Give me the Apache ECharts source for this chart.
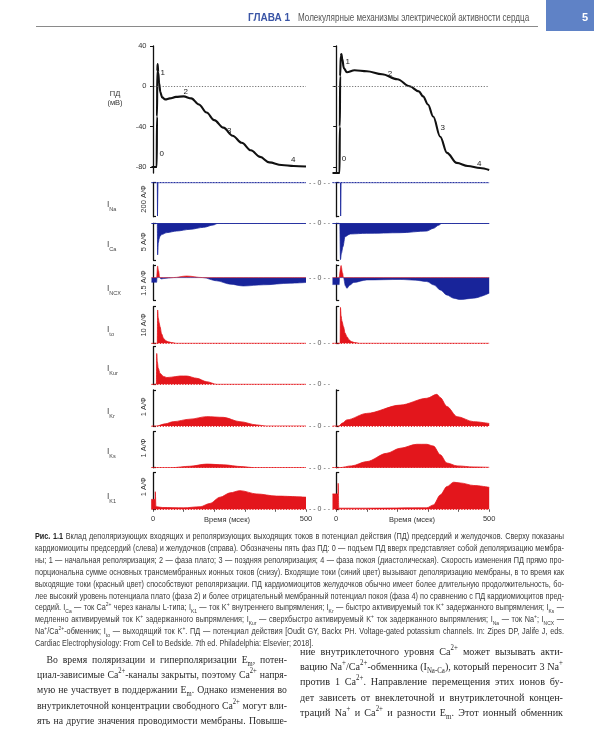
<!DOCTYPE html>
<html><head><meta charset="utf-8">
<script src="https://cdn.jsdelivr.net/npm/echarts@6/dist/echarts.min.js"></script>
<style>
html,body{margin:0;padding:0;background:#fff;}
#page{position:relative;width:600px;height:750px;overflow:hidden;background:#fff;}
#chart{position:absolute;left:0;top:0;width:600px;height:750px;}
.blk{position:absolute;transform-origin:0 0;width:3000px;}
.ln{white-space:nowrap;}
.blk.fit .ln{white-space:normal;text-align:justify;text-align-last:justify;}
.blk.fit .ln.last{text-align-last:left;}
sub,sup{font-size:68%;line-height:0;}
#cap{font-family:"Liberation Sans Narrow","Liberation Sans",Arial,sans-serif;font-size:9px;line-height:11.9px;color:#3a3a3a;}
#cap b{color:#222;}
.body{font-family:"Liberation Serif","DejaVu Serif",serif;font-size:11.3px;line-height:15.2px;color:#2a2a2a;}
#hdr{font-family:"Liberation Sans Narrow","Liberation Sans",Arial,sans-serif;font-size:10px;line-height:12px;color:#555;}
#hdrA{position:absolute;left:248px;top:12px;font-family:"Liberation Sans Narrow","Liberation Sans",Arial,sans-serif;font-size:10px;font-weight:bold;color:#3a55a6;white-space:nowrap;}
#rule{position:absolute;left:36px;top:26px;width:502px;height:1px;background:#8a8a8a;}
#box{position:absolute;left:546px;top:0;width:48px;height:31px;background:#5f82c6;}
#pg{position:absolute;left:582px;top:11px;font-family:"Liberation Sans",Arial,sans-serif;font-weight:bold;font-size:11px;color:#fff;}
</style></head><body>
<div id="page">
<div id="chart"></div>
<div id="rule"></div>
<div id="box"></div><div id="pg">5</div>
<div id="hdrA">ГЛАВА 1</div>
<div id="hdr" class="blk" data-w="232" style="left:298px;top:12px;"><div class="ln last"><span class="t">Молекулярные механизмы электрической активности сердца</span></div></div>

<div id="cap" class="blk" data-w="529" style="left:35px;top:531px;">
<div class="ln"><span class="t"><b>Рис. 1.1</b> Вклад деполяризующих входящих и реполяризующих выходящих токов в потенциал действия (ПД) предсердий и желудочков. Сверху показаны</span></div>
<div class="ln"><span class="t">кардиомиоциты предсердий (слева) и желудочков (справа). Обозначены пять фаз ПД: 0 — подъем ПД вверх представляет собой деполяризацию мембра-</span></div>
<div class="ln"><span class="t">ны; 1 — начальная реполяризация; 2 — фаза плато; 3 — поздняя реполяризация; 4 — фаза покоя (диастолическая). Скорость изменения ПД прямо про-</span></div>
<div class="ln"><span class="t">порциональна сумме основных трансмембранных ионных токов (снизу). Входящие токи (синий цвет) вызывают деполяризацию мембраны, в то время как</span></div>
<div class="ln"><span class="t">выходящие токи (красный цвет) способствуют реполяризации. ПД кардиомиоцитов желудочков обычно имеет более длительную продолжительность, бо-</span></div>
<div class="ln"><span class="t">лее высокий уровень потенциала плато (фаза 2) и более отрицательный мембранный потенциал покоя (фаза 4) по сравнению с ПД кардиомиоцитов пред-</span></div>
<div class="ln"><span class="t">сердий. I<sub>Ca</sub> — ток Ca<sup>2+</sup> через каналы L-типа; I<sub>K1</sub> — ток K<sup>+</sup> внутреннего выпрямления; I<sub>Kr</sub> — быстро активируемый ток K<sup>+</sup> задержанного выпрямления; I<sub>Ks</sub> —</span></div>
<div class="ln"><span class="t">медленно активируемый ток K<sup>+</sup> задержанного выпрямления; I<sub>Kur</sub> — сверхбыстро активируемый K<sup>+</sup> ток задержанного выпрямления; I<sub>Na</sub> — ток Na<sup>+</sup>; I<sub>NCX</sub> —</span></div>
<div class="ln"><span class="t">Na<sup>+</sup>/Ca<sup>2+</sup>-обменник; I<sub>to</sub> — выходящий ток K<sup>+</sup>. ПД — потенциал действия [Oudit GY, Backx PH. Voltage-gated potassium channels. In: Zipes DP, Jalife J, eds.</span></div>
<div class="ln last"><span class="t">Cardiac Electrophysiology: From Cell to Bedside. 7th ed. Philadelphia: Elsevier; 2018].</span></div>
</div>

<div id="bodyL" class="blk body" data-w="250" style="left:37px;top:652px;">
<div class="ln" style="text-indent:11px"><span class="t">Во время поляризации и гиперполяризации E<sub>m</sub>, потен-</span></div>
<div class="ln"><span class="t">циал-зависимые Ca<sup>2+</sup>-каналы закрыты, поэтому Ca<sup>2+</sup> напря-</span></div>
<div class="ln"><span class="t">мую не участвует в поддержании E<sub>m</sub>. Однако изменения во</span></div>
<div class="ln"><span class="t">внутриклеточной концентрации свободного Ca<sup>2+</sup> могут вли-</span></div>
<div class="ln"><span class="t">ять на другие значения проводимости мембраны. Повыше-</span></div>
</div>
<div id="bodyR" class="blk body" data-w="263" style="left:300px;top:644px;">
<div class="ln"><span class="t">ние внутриклеточного уровня Ca<sup>2+</sup> может вызывать акти-</span></div>
<div class="ln"><span class="t">вацию Na<sup>+</sup>/Ca<sup>2+</sup>-обменника (I<sub>Na-Ca</sub>), который переносит 3 Na<sup>+</sup></span></div>
<div class="ln"><span class="t">против 1 Ca<sup>2+</sup>. Направление перемещения этих ионов бу-</span></div>
<div class="ln"><span class="t">дет зависеть от внеклеточной и внутриклеточной концен-</span></div>
<div class="ln"><span class="t">траций Na<sup>+</sup> и Ca<sup>2+</sup> и разности E<sub>m</sub>. Этот ионный обменник</span></div>
</div>
</div>
<script>
// ---------- DATA ----------
const apTicks = [40, 0, -40, -80];
const timeTicks = [0, 100, 200, 300, 400, 500];
const timeLabels = [0, 500];
const timeTitle = 'Время (мсек)';

const apLeftT  = [-5, 12, 13, 14, 15, 17, 20, 24, 30, 40, 55, 75, 100, 125, 150, 175, 200, 230, 260, 290, 320, 350, 380, 420, 460, 500];
const apLeftV  = [-80, -80, -30, 15, 22, 14, 3, -6, -11, -13, -12, -10.5, -10, -12, -18, -26, -33.5, -41, -49, -56, -63.5, -70, -75.5, -78, -79, -79.5];
const apRightT = [-12, 11, 12, 13, 15, 17, 20, 25, 35, 60, 100, 150, 200, 240, 270, 284, 300, 317, 340, 362, 394, 430, 470, 500];
const apRightV = [-86, -86, -40, 10, 30, 32, 27, 18, 14, 16, 15, 12, 7, 0, -5, -10, -18, -30, -50, -66, -76, -79, -81, -83];

const inaLeftT  = [-5, 14, 14.6, 15.4, 16, 500];
const inaLeftV  = [0, 0, -196, -196, 0, 0];
const inaRightT = [-12, 14, 14.6, 15.4, 16, 500];
const inaRightV = [0, 0, -196, -196, 0, 0];

const icaLeftT  = [-5, 14, 15, 16, 17, 20, 23, 30, 45, 77, 121, 165, 197, 212, 500];
const icaLeftV  = [0, 0, -4.3, -3.6, -2.7, -2.1, -1.73, -1.5, -1.27, -1.05, -0.82, -0.55, -0.23, 0, 0];
const icaRightT = [-12, 12, 14, 17, 22, 29, 46, 100, 209, 296, 318, 334, 345, 500];
const icaRightV = [0, 0, -4.95, -4.1, -3.2, -1.8, -1.45, -1.36, -1.28, -1.05, -0.68, -0.27, 0, 0];

const incxLeftT  = [-5, 12, 13, 15, 18, 22, 26, 35, 50, 66, 110, 163, 208, 252, 295, 361, 448, 500];
const incxLeftV  = [-0.2, -0.2, 0, 0.5, 0.3, 0, -0.06, -0.04, -0.02, 0, 0.07, 0, -0.14, -0.28, -0.36, -0.31, -0.24, -0.21];
const incxRightT = [-12, 10, 11, 16, 21, 24, 30, 35, 45, 57, 100, 209, 260, 296, 320, 340, 362, 383, 405, 449, 500];
const incxRightV = [-0.3, -0.3, 0, 0.52, 0.2, 0, -0.35, -0.46, -0.32, -0.21, -0.1, -0.08, -0.11, -0.17, -0.32, -0.53, -0.75, -0.88, -0.94, -0.88, -0.67];

const itoLeftT  = [-5, 14, 15, 17, 20, 23, 28, 34, 42, 50, 60, 75, 500];
const itoLeftV  = [0, 0, 9.1, 7, 5.6, 4.5, 2.6, 1.4, 0.7, 0.4, 0.2, 0, 0];
const itoRightT = [-12, 13, 14, 16, 19, 24, 29, 35, 43, 51, 60, 75, 500];
const itoRightV = [0, 0, 9.8, 7.5, 6, 4.5, 2.8, 1.8, 0.9, 0.4, 0.2, 0, 0];

const ikurLeftT = [-5, 11, 12, 14, 17, 23, 34, 45, 60, 88, 110, 143, 175, 208, 500];
const ikurLeftV = [0, 0, 0.82, 0.6, 0.43, 0.29, 0.21, 0.18, 0.19, 0.22, 0.22, 0.16, 0.07, 0, 0];

const ikrLeftT  = [-5, 12, 40, 66, 121, 175, 230, 284, 339, 370, 500];
const ikrLeftV  = [0, 0, 0.06, 0.12, 0.19, 0.26, 0.24, 0.12, 0.03, 0, 0];
const ikrRightT = [-12, 8, 20, 35, 100, 209, 296, 329, 340, 362, 395, 449, 500];
const ikrRightV = [0, 0, 0.08, 0.17, 0.35, 0.58, 0.77, 0.88, 0.79, 0.54, 0.26, 0.12, 0.07];

const iksLeftT  = [-5, 60, 120, 175, 230, 290, 330, 500];
const iksLeftV  = [0, 0, 0.04, 0.1, 0.08, 0.03, 0, 0];
const iksRightT = [-12, 10, 50, 100, 165, 209, 263, 296, 318, 340, 362, 395, 450, 500];
const iksRightV = [0, 0, 0.05, 0.17, 0.4, 0.54, 0.65, 0.65, 0.6, 0.36, 0.13, 0.05, 0.02, 0.01];

const ik1LeftT  = [-6, 7, 7.5, 9, 9.5, 30, 100, 154, 186, 219, 252, 284, 339, 404, 500];
const ik1LeftV  = [0.27, 0.27, 0.48, 0.48, 0.07, 0.05, 0.04, 0.07, 0.16, 0.33, 0.45, 0.51, 0.42, 0.36, 0.33];
const ik1RightT = [-12, 6, 6.5, 8, 8.5, 20, 100, 296, 318, 340, 362, 384, 405, 450, 500];
const ik1RightV = [0.42, 0.42, 0.71, 0.71, 0.03, 0.03, 0.03, 0.04, 0.12, 0.39, 0.62, 0.74, 0.72, 0.65, 0.6];

const rowNames  = ['Na', 'Ca', 'NCX', 'to', 'Kur', 'Kr', 'Ks', 'K1'];
const rowScales = ['200 А/Ф', '5 А/Ф', '1.5 А/Ф', '10 А/Ф', '', '1 А/Ф', '1 А/Ф', '1 А/Ф'];
const phaseNames = ['0', '1', '2', '3', '4'];

// ---------- LAYOUT / STYLE ----------
const BLUE = '#18249a', RED = '#e3161c', INK = '#111';
const FONT = '"Liberation Sans Narrow","Liberation Sans",Arial,sans-serif';
const DOT = [1.2, 1.6];
const L = {left: 151.5, width: 154.5, min: -5};
const R = {left: 332.5, width: 156.7, min: -12};
const rows = [
  {top: 182.7, bottom: 216.7, min: -200, max: 0, zero: {c: BLUE, t: DOT}, color: BLUE, smooth: false,
   left: [inaLeftT, inaLeftV], right: [inaRightT, inaRightV], lblY: 203, scY: 199},
  {top: 223.3, bottom: 260, min: -5, max: 0, zero: {c: BLUE, t: 'solid'}, color: BLUE,
   left: [icaLeftT, icaLeftV], right: [icaRightT, icaRightV], lblY: 243, scY: 241.7},
  {top: 265, bottom: 300, min: -0.96, max: 0.54, zero: null, split: true,
   left: [incxLeftT, incxLeftV], right: [incxRightT, incxRightV], lblY: 287, scY: 283, zeroY: 277.7},
  {top: 306.7, bottom: 343.3, min: 0, max: 10, zero: {c: RED, t: DOT}, color: RED,
   left: [itoLeftT, itoLeftV], right: [itoRightT, itoRightV], lblY: 328, scY: 325},
  {top: 346.7, bottom: 384.3, min: 0, max: 1, zero: {c: RED, t: DOT}, color: RED,
   left: [ikurLeftT, ikurLeftV], right: null, lblY: 367, scY: 366},
  {top: 390, bottom: 426, min: 0, max: 1, zero: {c: RED, t: DOT}, color: RED,
   left: [ikrLeftT, ikrLeftV], right: [ikrRightT, ikrRightV], lblY: 410, scY: 406.7},
  {top: 431.7, bottom: 467.7, min: 0, max: 1, zero: {c: RED, t: DOT}, color: RED,
   left: [iksLeftT, iksLeftV], right: [iksRightT, iksRightV], lblY: 450, scY: 448},
  {top: 472.7, bottom: 509.3, min: 0, max: 1, zero: {c: RED, t: DOT}, color: RED, bottomAxis: true,
   left: [ik1LeftT, ik1LeftV], right: [ik1RightT, ik1RightV], lblY: 495, scY: 486.7}
];

const pts = (t, v) => t.map((x, i) => [x, v[i]]);
const grids = [], xAxes = [], yAxes = [], series = [], graphics = [];

function addGrid(col, top, height, yCfg, xCfg) {
  const gi = grids.length;
  grids.push({left: col.left, width: col.width, top: top, height: height, containLabel: false, outerBoundsMode: 'none'});
  xAxes.push(Object.assign({gridIndex: gi, type: 'value', min: col.min, max: 500, show: false, splitLine: {show: false}}, xCfg || {}));
  yAxes.push(Object.assign({gridIndex: gi, type: 'value', splitLine: {show: false}}, yCfg));
  return gi;
}
function zeroLine(c, t) {
  return {silent: true, symbol: ['none', 'none'], label: {show: false}, animation: false,
          lineStyle: {type: t, color: c, width: t === 'solid' ? 0.8 : 0.9}, data: [{yAxis: 0}]};
}

// action potential panels
[[L, apLeftT, apLeftV, true], [R, apRightT, apRightV, false]].forEach(([col, t, v, labels]) => {
  const g = addGrid(col, 46, 127, {
    min: -86, max: 40,
    axisLine: {show: true, lineStyle: {color: INK, width: 1.3}},
    axisTick: {show: true, customValues: apTicks, length: 3, lineStyle: {color: INK, width: 1}},
    axisLabel: {show: labels, customValues: apTicks, fontSize: 7.5, color: '#333', margin: 5, fontFamily: FONT}
  });
  series.push({type: 'line', xAxisIndex: g, yAxisIndex: g, data: pts(t, v), showSymbol: false,
    smooth: 0.35, smoothMonotone: 'x', lineStyle: {color: INK, width: 2.1}, z: 3,
    markLine: zeroLine('#666', DOT)});
});

// current panels
rows.forEach((r, ri) => {
  [[L, r.left], [R, r.right]].forEach(([col, d]) => {
    const hasBracket = d !== null;
    const xCfg = r.bottomAxis ? {
      show: true,
      axisLine: {show: false},
      axisTick: {show: true, customValues: timeTicks, length: 2.5, lineStyle: {color: '#333', width: 0.8}},
      axisLabel: {show: true, customValues: timeLabels, fontSize: 7.5, color: '#333', margin: 6, fontFamily: FONT}
    } : null;
    const g = addGrid(col, r.top, r.bottom - r.top, {
      min: r.min, max: r.max, show: hasBracket,
      axisLine: {show: true, lineStyle: {color: INK, width: 1.3}},
      axisTick: {show: true, inside: true, customValues: [r.min, r.max], length: 3, lineStyle: {color: INK, width: 1.2}},
      axisLabel: {show: false}
    }, xCfg);
    if (!d) return;
    const base = {type: 'line', xAxisIndex: g, yAxisIndex: g, showSymbol: false,
      smooth: r.smooth === false ? false : 0.3, smoothMonotone: 'x', z: 2};
    if (r.split) {
      const pos = d[1].map(v => Math.max(v, 0));
      const neg = d[1].map(v => Math.min(v, 0));
      series.push(Object.assign({}, base, {data: pts(d[0], neg), lineStyle: {color: BLUE, width: 0.6},
        areaStyle: {color: BLUE, opacity: 1, origin: 'auto'}}));
      series.push(Object.assign({}, base, {data: pts(d[0], pos), lineStyle: {color: RED, width: 0.6},
        areaStyle: {color: RED, opacity: 1, origin: 'auto'}}));
    } else {
      series.push(Object.assign({}, base, {data: pts(d[0], d[1]), lineStyle: {color: r.color, width: 0.8},
        areaStyle: {color: r.color, opacity: 1, origin: 'auto'},
        markLine: r.zero ? zeroLine(r.zero.c, r.zero.t) : undefined}));
    }
  });
  // row label, scale label, gap zero label
  const zy = r.zeroY !== undefined ? r.zeroY : (r.min < 0 ? r.top : r.bottom);
  graphics.push({type: 'text', x: 107, y: r.lblY, style: {
    text: '{i|I}{s|' + rowNames[ri] + '}', align: 'left', verticalAlign: 'middle', fill: '#444',
    rich: {i: {fontSize: 8.5, fontFamily: FONT, fill: '#444', verticalAlign: 'bottom', lineHeight: 12},
           s: {fontSize: 5.5, fontFamily: FONT, fill: '#444', verticalAlign: 'bottom', lineHeight: 12, padding: [0, 0, -3, 0]}}}});
  if (rowScales[ri]) {
    graphics.push({type: 'text', x: 143.5, y: r.scY, rotation: Math.PI / 2, style: {
      text: rowScales[ri], align: 'center', verticalAlign: 'middle', fontSize: 7.5, fontFamily: FONT, fill: '#333'}});
  }
  graphics.push({type: 'text', x: 319.5, y: zy, style: {
    text: '- - 0 - -', align: 'center', verticalAlign: 'middle', fontSize: 7, fontFamily: FONT, fill: '#555'}});
});

// time axis titles, in line with the 0 / 500 labels
[[227, 519.5], [412, 519.5]].forEach(p => graphics.push({type: 'text', x: p[0], y: p[1], style: {
  text: timeTitle, align: 'center', verticalAlign: 'middle', fontSize: 7.5, fontFamily: FONT, fill: '#333'}}));

// AP labels
graphics.push({type: 'text', x: 115, y: 98, style: {text: 'ПД\n(мВ)', align: 'center', verticalAlign: 'middle',
  fontSize: 7.5, lineHeight: 9, fontFamily: FONT, fill: '#333'}});
const phasePosL = [[161.7, 153.3], [162.7, 72.3], [185.7, 91.7], [229.3, 130.7], [293.3, 160]];
const phasePosR = [[344, 158.3], [347.7, 61.7], [390, 73.3], [442.7, 127.7], [479.3, 163.3]];
[phasePosL, phasePosR].forEach(pp => pp.forEach((p, i) => graphics.push({type: 'text', x: p[0], y: p[1],
  style: {text: phaseNames[i], align: 'center', verticalAlign: 'middle', fontSize: 8, fontFamily: FONT, fill: '#222'}})));

const chart = echarts.init(document.getElementById('chart'), null, {renderer: 'canvas'});
chart.setOption({
  animation: false,
  backgroundColor: 'transparent',
  grid: grids, xAxis: xAxes, yAxis: yAxes, series: series, graphic: graphics
});

// ---------- page text fitting ----------
document.querySelectorAll('.blk').forEach(b => {
  const target = parseFloat(b.dataset.w);
  let maxW = 0;
  b.querySelectorAll('.ln').forEach(l => {
    const ind = parseFloat(getComputedStyle(l).textIndent) || 0;
    maxW = Math.max(maxW, l.querySelector('.t').getBoundingClientRect().width + ind);
  });
  const s = target / (maxW + 1);
  b.style.width = (target / s) + 'px';
  b.style.transform = 'scaleX(' + s + ')';
  b.classList.add('fit');
});
</script>
</body></html>
